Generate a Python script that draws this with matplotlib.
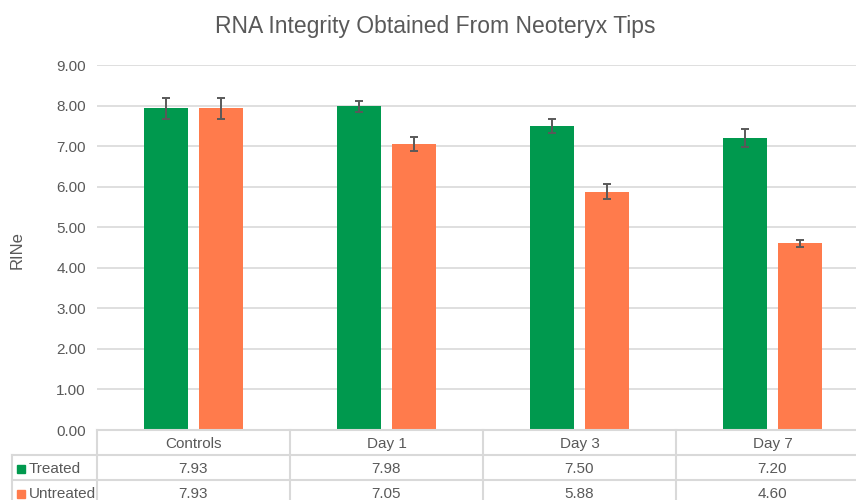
import matplotlib
matplotlib.use("Agg")
import matplotlib.pyplot as plt
import numpy as np
from matplotlib import font_manager

categories = ["Controls", "Day 1", "Day 3", "Day 7"]
series_names = ["Treated", "Untreated"]
treated = [7.93, 7.98, 7.50, 7.20]
untreated = [7.93, 7.05, 5.88, 4.60]
treated_err = [0.25, 0.13, 0.17, 0.21]
untreated_err = [0.25, 0.165, 0.18, 0.08]
yticks = [0, 1, 2, 3, 4, 5, 6, 7, 8, 9]

names = {f.name for f in font_manager.fontManager.ttflist}
fam = [f for f in ["Liberation Sans Narrow", "Liberation Sans", "DejaVu Sans"] if f in names]
plt.rcParams['font.family'] = fam

GREEN = "#00994E"
ORANGE = "#FF7B4C"
TXT = "#595959"
GRID = "#D9D9D9"

W, H = 856, 500
fig = plt.figure(figsize=(W / 100, H / 100), dpi=100)

ax_l, ax_r, ax_b, ax_t = 97, 869, 430, 65
ax = fig.add_axes([ax_l / W, 1 - ax_b / H, (ax_r - ax_l) / W, (ax_b - ax_t) / H])
x = np.arange(len(categories))
bw = 0.228
off = 0.142
ax.bar(x - off, treated, bw, color=GREEN, zorder=3)
ax.bar(x + off, untreated, bw, color=ORANGE, zorder=3)
ax.errorbar(x - off, treated, yerr=treated_err, fmt='none', ecolor="#595959", elinewidth=1.4, capsize=3, capthick=1.4, zorder=4)
ax.errorbar(x + off, untreated, yerr=untreated_err, fmt='none', ecolor="#595959", elinewidth=1.4, capsize=3, capthick=1.4, zorder=4)
ax.set_xlim(-0.5, len(categories) - 0.5)
ax.set_ylim(0, 9)
ax.set_yticks(yticks)
ax.set_yticklabels([f"{v:.2f}" for v in yticks], color=TXT, fontsize=11)
ax.tick_params(axis='y', length=0, pad=8)
ax.set_xticks([])
ax.grid(axis='y', color=GRID, linewidth=1.2, zorder=0)
for s in ax.spines.values():
    s.set_visible(False)

fig.text(17 / W, 1 - 250 / H, "RINe", rotation=90, ha='center', va='center', color=TXT, fontsize=12)
fig.text(435 / W, 1 - 27 / H, "RNA Integrity Obtained From Neoteryx Tips", ha='center', va='center', color=TXT, fontsize=16.5)

# data table below the axes
tl, tr, tt, tb = 12, 869, 430, 505
tax = fig.add_axes([tl / W, 1 - tb / H, (tr - tl) / W, (tb - tt) / H])
tax.set_xlim(tl, tr)
tax.set_ylim(tb, tt)
tax.axis('off')
rows_y = [430, 455, 480, 505]
col_w = (ax_r - ax_l) / len(categories)
col_x = [ax_l + i * col_w for i in range(len(categories) + 1)]
lc = dict(color=GRID, linewidth=1.5, clip_on=False)
tax.plot([ax_l, tr], [rows_y[0], rows_y[0]], **lc)
for yy in rows_y[1:]:
    tax.plot([tl, tr], [yy, yy], **lc)
for xx in col_x:
    tax.plot([xx, xx], [rows_y[0], tb], **lc)
tax.plot([tl, tl], [rows_y[1], tb], **lc)
for i, c in enumerate(categories):
    tax.text((col_x[i] + col_x[i + 1]) / 2, (rows_y[0] + rows_y[1]) / 2 + 1, c, ha='center', va='center', color=TXT, fontsize=11)
for r, (name, vals, col) in enumerate(zip(series_names, [treated, untreated], [GREEN, ORANGE])):
    yc = (rows_y[r + 1] + rows_y[r + 2]) / 2 + 1
    tax.add_patch(plt.Rectangle((16.5, yc - 4), 8, 8, color=col, clip_on=False))
    tax.text(29, yc, name, ha='left', va='center', color=TXT, fontsize=11)
    for i, v in enumerate(vals):
        tax.text((col_x[i] + col_x[i + 1]) / 2, yc, f"{v:.2f}", ha='center', va='center', color=TXT, fontsize=11)

fig.savefig("out.png", dpi=100)
